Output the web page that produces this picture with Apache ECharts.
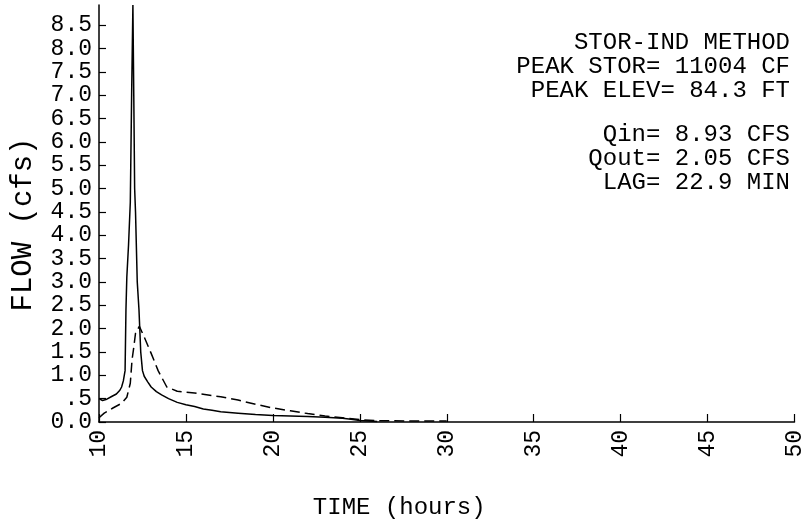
<!DOCTYPE html>
<html>
<head>
<meta charset="utf-8">
<script src="https://cdn.jsdelivr.net/npm/echarts@6/dist/echarts.min.js"></script>
<style>
  html, body { margin: 0; padding: 0; background: #ffffff; }
  #chart { width: 806px; height: 527px; }
</style>
</head>
<body>
<div id="chart"></div>
<script>
// Inflow hydrograph (hours, cfs)
const inflowTime = [10.0, 10.2, 10.4, 10.7, 11.0, 11.2, 11.3, 11.4, 11.5, 11.55, 11.6, 11.7, 11.8, 11.88, 11.95,
  12.0, 12.05, 12.1, 12.2, 12.3, 12.4, 12.5, 12.6, 12.8, 13.0, 13.3, 13.6, 14.0, 14.5, 15.0, 15.5, 16.0, 16.5,
  17.0, 18.0, 19.0, 20.0, 21.0, 22.0, 23.0, 24.0, 24.5, 25.0, 26.0];
const inflowCfs = [0.50, 0.46, 0.48, 0.54, 0.60, 0.68, 0.75, 0.88, 1.10, 2.40, 3.10, 3.80, 4.70, 7.10, 8.93,
  7.00, 5.00, 4.50, 3.00, 2.40, 1.50, 1.10, 0.98, 0.86, 0.75, 0.65, 0.58, 0.50, 0.42, 0.37, 0.33, 0.28, 0.25,
  0.22, 0.19, 0.16, 0.14, 0.13, 0.12, 0.10, 0.08, 0.06, 0.03, 0.01];

// Routed outflow hydrograph (hours, cfs)
const outflowTime = [10.0, 10.3, 10.8, 11.3, 11.6, 11.8, 11.9, 12.0, 12.1, 12.32, 12.6, 13.0, 13.4, 13.9, 14.5,
  15.5, 17.0, 18.0, 19.0, 20.0, 21.0, 22.0, 23.0, 24.0, 25.0, 26.0, 28.0, 30.0];
const outflowCfs = [0.09, 0.19, 0.30, 0.40, 0.53, 0.83, 1.33, 1.60, 1.90, 2.05, 1.82, 1.47, 1.10, 0.75, 0.66,
  0.62, 0.54, 0.47, 0.38, 0.30, 0.24, 0.18, 0.13, 0.09, 0.05, 0.03, 0.02, 0.02];

// Axis ticks and labels
const flowTicks = [0, 0.5, 1, 1.5, 2, 2.5, 3, 3.5, 4, 4.5, 5, 5.5, 6, 6.5, 7, 7.5, 8, 8.5];
const flowTickLabels = ['0.0', '.5', '1.0', '1.5', '2.0', '2.5', '3.0', '3.5', '4.0', '4.5', '5.0', '5.5',
  '6.0', '6.5', '7.0', '7.5', '8.0', '8.5'];
const timeTicks = [10, 15, 20, 25, 30, 35, 40, 45, 50];
const flowMax = 8.93;

// Routing summary block
const summaryLines = ['STOR-IND METHOD', 'PEAK STOR= 11004 CF', 'PEAK ELEV= 84.3 FT',
  'Qin= 8.93 CFS', 'Qout= 2.05 CFS', 'LAG= 22.9 MIN'];
// vertical placement of each summary line (px from top); a gap separates the two groups
const summaryTops = [31, 55, 79, 123, 147, 171];

const mono = '"Liberation Mono", "DejaVu Sans Mono", monospace';
const pairs = (xs, ys) => xs.map((x, i) => [x, ys[i]]);

const chart = echarts.init(document.getElementById('chart'), null, { renderer: 'canvas' });

chart.setOption({
  animation: false,
  backgroundColor: '#ffffff',
  grid: { left: 99, right: 11, top: 5, bottom: 105, containLabel: false },
  xAxis: {
    type: 'value',
    min: 10, max: 50, interval: 5,
    name: 'TIME (hours)',
    nameLocation: 'middle',
    nameGap: 74,
    nameTextStyle: { fontFamily: mono, fontSize: 24, color: '#000', padding: [0, 95, 0, 0] },
    axisLine: { show: true, onZero: false, lineStyle: { color: '#000', width: 1.5 } },
    axisTick: { show: true, inside: true, length: 8, customValues: timeTicks, lineStyle: { color: '#000', width: 1.2 } },
    axisLabel: {
      customValues: timeTicks, rotate: 90, margin: 8,
      fontFamily: mono, fontSize: 23, color: '#000'
    },
    splitLine: { show: false }
  },
  yAxis: {
    type: 'value',
    min: 0, max: flowMax,
    name: 'FLOW (cfs)',
    nameLocation: 'middle',
    nameGap: 61,
    nameTextStyle: { fontFamily: mono, fontSize: 29, color: '#000', padding: [0, 22, 0, 0] },
    axisLine: { show: true, onZero: false, lineStyle: { color: '#000', width: 1.5 } },
    axisTick: { show: true, inside: true, length: 7, customValues: flowTicks, lineStyle: { color: '#000', width: 1.2 } },
    axisLabel: {
      customValues: flowTicks, margin: 7,
      fontFamily: mono, fontSize: 23, color: '#000',
      formatter: (v) => {
        const i = flowTicks.findIndex(t => Math.abs(t - v) < 1e-9);
        return i >= 0 ? flowTickLabels[i] : '';
      }
    },
    splitLine: { show: false }
  },
  graphic: summaryLines.map((line, i) => ({
    type: 'text',
    right: 16,
    top: summaryTops[i],
    style: { text: line, fontFamily: mono, fontSize: 24, fill: '#000', textAlign: 'right' }
  })),
  series: [
    {
      name: 'Inflow',
      type: 'line',
      data: pairs(inflowTime, inflowCfs),
      showSymbol: false,
      lineStyle: { color: '#000', width: 1.5, type: 'solid' },
      z: 3
    },
    {
      name: 'Outflow',
      type: 'line',
      data: pairs(outflowTime, outflowCfs),
      showSymbol: false,
      lineStyle: { color: '#000', width: 1.5, type: [10, 5] },
      z: 2
    }
  ]
});
</script>
</body>
</html>
